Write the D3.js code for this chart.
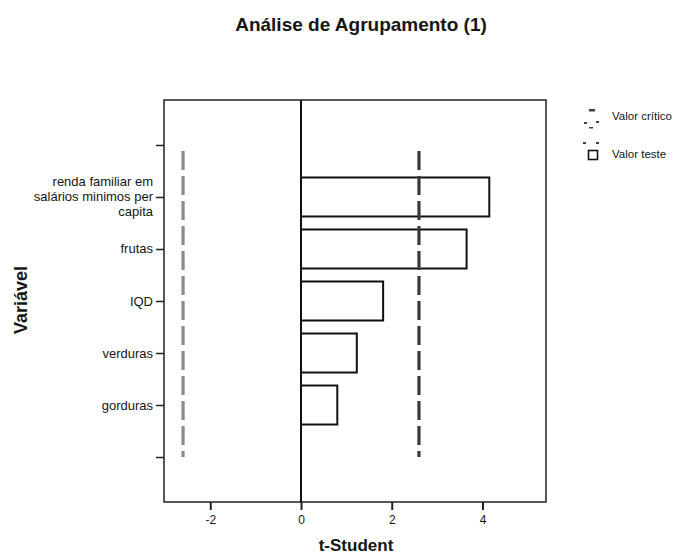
<!DOCTYPE html>
<html>
<head>
<meta charset="utf-8">
<script src="https://cdn.jsdelivr.net/npm/d3@7"></script>
<style>
  body { margin: 0; background: #fff; }
  svg { display: block; }
  text { font-family: "Liberation Sans", Arial, sans-serif; fill: #151515; }
</style>
</head>
<body>
<svg id="chart" width="676" height="554"></svg>
<script>
// ---- data ----
const categories = ["renda familiar em salários minimos per capita", "frutas", "IQD", "verduras", "gorduras"];
const categoryLines = [["renda familiar em", "salários minimos per", "capita"], ["frutas"], ["IQD"], ["verduras"], ["gorduras"]];
const testValues = [4.15, 3.65, 1.81, 1.23, 0.80];
const criticalValues = [-2.6, 2.6];
const xTicks = [-2, 0, 2, 4];
const title = "Análise de Agrupamento (1)";
const xTitle = "t-Student";
const yTitle = "Variável";
const legendLabels = ["Valor crítico", "Valor teste"];

// ---- layout ----
const svg = d3.select("#chart");
const pLeft = 164, pRight = 546, pTop = 100, pBottom = 502;

const x = d3.scaleLinear().domain([-3.02, 5.4]).range([pLeft, pRight]);
const yDomain = ["__top"].concat(categories, ["__bottom"]);
const y = d3.scalePoint().domain(yDomain).range([pTop, pBottom]).padding(0.865);
const step = y.step();

// title
svg.append("text").attr("x", 361).attr("y", 31).attr("text-anchor", "middle")
  .style("font-size", "19px").style("font-weight", "bold").text(title);

// frame
svg.append("rect").attr("x", pLeft).attr("y", pTop).attr("width", pRight - pLeft).attr("height", pBottom - pTop)
  .attr("fill", "none").attr("stroke", "#222").attr("stroke-width", 1.5);

// bars (unfilled)
const barH = step * 0.75;
svg.selectAll("rect.bar").data(testValues).join("rect").attr("class", "bar")
  .attr("x", x(0)).attr("width", d => x(d) - x(0))
  .attr("y", (d, i) => y(categories[i]) - barH / 2).attr("height", barH)
  .attr("fill", "none").attr("stroke", "#111").attr("stroke-width", 2);

// critical value lines
const critColors = ["#8c8c8c", "#3a3a3a"];
svg.selectAll("line.crit").data(criticalValues).join("line").attr("class", "crit")
  .attr("x1", d => x(d)).attr("x2", d => x(d))
  .attr("y1", y("__top")).attr("y2", y("__bottom"))
  .attr("stroke", (d, i) => critColors[i]).attr("stroke-width", 3.2)
  .attr("stroke-dasharray", "19,6").attr("stroke-dashoffset", 19);

// zero line
svg.append("line").attr("x1", x(0)).attr("x2", x(0)).attr("y1", pTop).attr("y2", pBottom)
  .attr("stroke", "#111").attr("stroke-width", 2);

// x axis
const xAxis = d3.axisBottom(x).tickValues(xTicks).tickSize(8).tickPadding(5).tickFormat(d => String(d));
const gx = svg.append("g").attr("transform", `translate(0,${pBottom})`).call(xAxis);
gx.select(".domain").remove();
gx.selectAll(".tick line").attr("stroke", "#222").attr("stroke-width", 2);
gx.selectAll(".tick text").style("font-size", "12px").style("font-family", "Liberation Sans, Arial, sans-serif").attr("fill", "#151515");

// y axis
const yAxis = d3.axisLeft(y).tickSize(8).tickPadding(5).tickFormat(() => "");
const gy = svg.append("g").attr("transform", `translate(${pLeft},0)`).call(yAxis);
gy.select(".domain").remove();
gy.selectAll(".tick line").attr("stroke", "#222").attr("stroke-width", 1.5);

// y labels (multi-line)
categories.forEach((c, i) => {
  const lines = categoryLines[i];
  const lh = 15;
  const t = svg.append("text").attr("text-anchor", "end").style("font-size", "13px");
  lines.forEach((ln, j) => {
    t.append("tspan").attr("x", pLeft - 11)
      .attr("y", y(c) + 4.5 + (j - (lines.length - 1) / 2) * lh).text(ln);
  });
});

// axis titles
svg.append("text").attr("x", 356).attr("y", 551).attr("text-anchor", "middle")
  .style("font-size", "17px").style("font-weight", "bold").text(xTitle);
svg.append("text").attr("transform", "translate(27,300) rotate(-90)").attr("text-anchor", "middle")
  .style("font-size", "18px").style("font-weight", "bold").text(yTitle);

// legend
const lg = svg.append("g");
const marks = [[589, 109, 6, 2.5], [584, 122, 3, 2], [596, 121, 3, 2], [589, 127, 4, 1.5], [583, 142, 3, 2], [596, 142, 3, 2]];
lg.selectAll("rect.lm").data(marks).join("rect").attr("class", "lm")
  .attr("x", d => d[0]).attr("y", d => d[1]).attr("width", d => d[2]).attr("height", d => d[3])
  .attr("fill", "#444");
lg.append("text").attr("x", 612).attr("y", 120).style("font-size", "11.5px").text(legendLabels[0]);
lg.append("rect").attr("x", 588.5).attr("y", 150.5).attr("width", 9).attr("height", 9)
  .attr("fill", "#fff").attr("stroke", "#111").attr("stroke-width", 1.6);
lg.append("text").attr("x", 612).attr("y", 158).style("font-size", "11.5px").text(legendLabels[1]);
</script>
</body>
</html>
